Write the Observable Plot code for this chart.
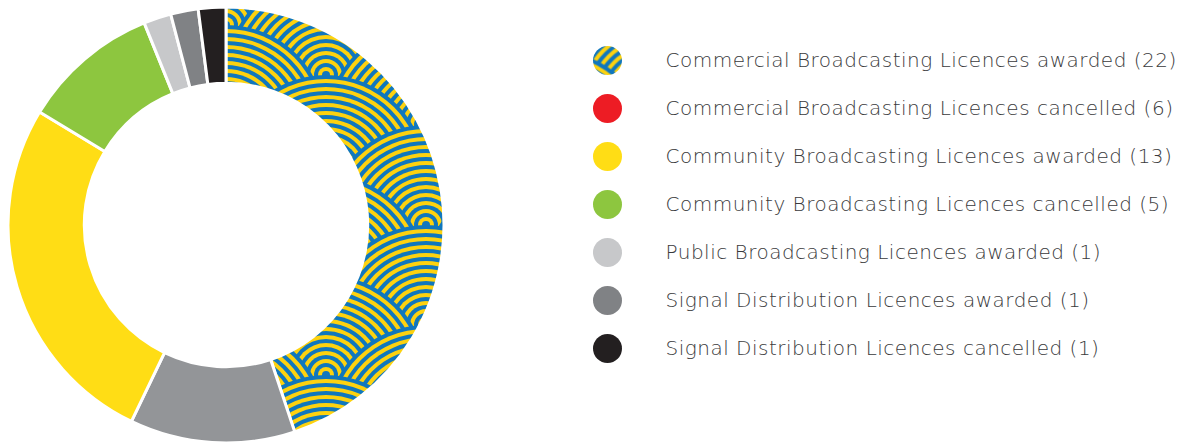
<!DOCTYPE html>
<html><head><meta charset="utf-8">
<script src="https://cdn.jsdelivr.net/npm/d3@7"></script>
<script src="https://cdn.jsdelivr.net/npm/@observablehq/plot@0.6"></script>
<style>
body{margin:0;background:#fff;}
#wrap{display:flex;width:1189px;height:443px;overflow:hidden;}
#wrap svg{display:block;}
</style></head><body>
<svg id="defs" width="0" height="0" style="position:absolute"><defs><pattern id="waves" patternUnits="userSpaceOnUse" width="200" height="100"></pattern></defs></svg>
<div id="wrap"></div>
<script>
const categories = [
  "Commercial Broadcasting Licences awarded",
  "Commercial Broadcasting Licences cancelled",
  "Community Broadcasting Licences awarded",
  "Community Broadcasting Licences cancelled",
  "Public Broadcasting Licences awarded",
  "Signal Distribution Licences awarded",
  "Signal Distribution Licences cancelled"
];
const values = [22, 6, 13, 5, 1, 1, 1];
const sliceColors = ["url(#waves)", "#939598", "#ffdd15", "#8dc63f", "#c7c8ca", "#808285", "#231f20"];
const legendColors = ["url(#waves)", "#ed1c24", "#ffdd15", "#8dc63f", "#c7c8ca", "#808285", "#231f20"];

// concentric-circle (seigaiha) fill pattern
(function buildPattern(){
  const R = 100, step = 4, W = 200, H = 100;
  const pat = d3.select("#waves");
  pat.append("rect").attr("width", W).attr("height", H).attr("fill", "#1077bd");
  const centers = [];
  for (let row = -1; row <= 4; row++) {
    const cy = row * H / 2;
    const xs = (row + 2) % 2 === 0 ? [0, W] : [-W / 2, W / 2, W * 1.5];
    xs.forEach(cx => centers.push([cx, cy]));
  }
  centers.forEach(([cx, cy]) => {
    let k = 0;
    for (let r = R; r > 0; r -= step, k++) {
      pat.append("circle").attr("cx", cx).attr("cy", cy).attr("r", r)
        .attr("fill", k % 2 === 0 ? "#1077bd" : "#fdd20f");
    }
  });
})();

const data = categories.map((c, i) => ({category: c, value: values[i], fill: sliceColors[i]}));
const arcs = d3.pie().sort(null).value(d => d.value)(data);
const innerRatio = 0.65;

const donut = Plot.plot({
  width: 452, height: 443,
  marginLeft: 8, marginRight: 8, marginTop: 7, marginBottom: 0,
  x: {domain: [-1, 1], axis: null},
  y: {domain: [-1, 1], axis: null},
  marks: [
    Plot.dot([-1, 1], {x: d => d, y: d => d, r: 0}),
    (index, scales) => {
      const cx = scales.x(0), cy = scales.y(0);
      const R = scales.x(1) - cx;
      const arc = d3.arc().innerRadius(R * innerRatio).outerRadius(R);
      const g = d3.create("svg:g").attr("transform", `translate(${cx},${cy})`);
      g.selectAll("path").data(arcs).join("path")
        .attr("d", arc)
        .attr("fill", d => d.data.fill)
        .attr("stroke", "white").attr("stroke-width", 3).attr("stroke-linejoin", "round");
      return g.node();
    }
  ]
});

const legendData = categories.map((c, i) => ({category: c, label: `${c} (${values[i]})`}));
const legend = Plot.plot({
  width: 737, height: 443,
  x: {domain: [0, 1], range: [155, 213], axis: null},
  y: {type: "point", domain: categories, range: [58, 350], padding: 0, axis: null},
  color: {domain: categories, range: legendColors},
  marks: [
    Plot.dot(legendData, {x: () => 0, y: "category", r: 14.5, fill: "category"}),
    Plot.text(legendData, {x: () => 1, y: "category", text: "label", textAnchor: "start",
      fontSize: 20, fontFamily: "DejaVu Sans", fontWeight: 300, fill: "#3a3a3c",
      style: {letterSpacing: "0.5px"}})
  ]
});
legend.querySelectorAll("text").forEach(t => t.style.letterSpacing = "0.5px");

document.getElementById("wrap").append(donut, legend);
</script>
</body></html>
